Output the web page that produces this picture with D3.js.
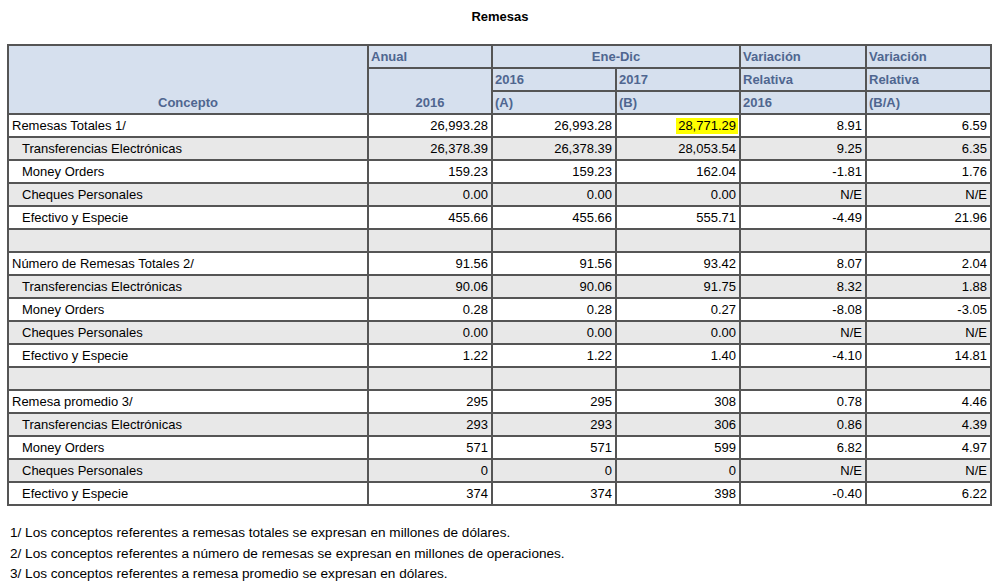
<!DOCTYPE html><html><head><meta charset="utf-8"><script src="https://cdn.jsdelivr.net/npm/d3@7"></script>
<style>body{margin:0;background:#fff}</style></head><body><script>
const concepts=["Remesas Totales 1/","Transferencias Electrónicas","Money Orders","Cheques Personales","Efectivo y Especie","","Número de Remesas Totales 2/","Transferencias Electrónicas","Money Orders","Cheques Personales","Efectivo y Especie","","Remesa promedio 3/","Transferencias Electrónicas","Money Orders","Cheques Personales","Efectivo y Especie"];
const indent=[0,1,1,1,1,0,0,1,1,1,1,0,0,1,1,1,1];
const anual2016=["26,993.28","26,378.39","159.23","0.00","455.66","","91.56","90.06","0.28","0.00","1.22","","295","293","571","0","374"];
const eneDic2016=["26,993.28","26,378.39","159.23","0.00","455.66","","91.56","90.06","0.28","0.00","1.22","","295","293","571","0","374"];
const eneDic2017=["28,771.29","28,053.54","162.04","0.00","555.71","","93.42","91.75","0.27","0.00","1.40","","308","306","599","0","398"];
const varRel2016=["8.91","9.25","-1.81","N/E","-4.49","","8.07","8.32","-8.08","N/E","-4.10","","0.78","0.86","6.82","N/E","-0.40"];
const varRelBA=["6.59","6.35","1.76","N/E","21.96","","2.04","1.88","-3.05","N/E","14.81","","4.46","4.39","4.97","N/E","6.22"];
const footnotes=["1/ Los conceptos referentes a remesas totales se expresan en millones de dólares.","2/ Los conceptos referentes a número de remesas se expresan en millones de operaciones.","3/ Los conceptos referentes a remesa promedio se expresan en dólares."];
const cols=[concepts,anual2016,eneDic2016,eneDic2017,varRel2016,varRelBA];
const colEdges=[8,368,492,616,740,866,991];
const W=1001,H=585;
const svg=d3.select("body").append("svg").attr("width",W).attr("height",H).style("font-family","'Liberation Sans',Arial,sans-serif").style("font-size","13px");
svg.append("text").attr("x",500).attr("y",21).attr("text-anchor","middle").attr("font-weight","bold").text("Remesas");
const y=d3.scaleBand().domain(d3.range(concepts.length)).range([114,505]);
const hy=d3.scaleBand().domain([0,1,2]).range([45,114]);
const hdrFill="#d6e0ee",hdrText="#4f6690",bc="#555";
const hdr=[[0,1,0,3,"Concepto","middle"],[1,2,0,1,"Anual","start"],[1,2,1,3,"2016","middle"],[2,4,0,1,"Ene-Dic","middle"],[2,3,1,2,"2016","start"],[3,4,1,2,"2017","start"],[2,3,2,3,"(A)","start"],[3,4,2,3,"(B)","start"],[4,5,0,1,"Variación","start"],[4,5,1,2,"Relativa","start"],[4,5,2,3,"2016","start"],[5,6,0,1,"Variación","start"],[5,6,1,2,"Relativa","start"],[5,6,2,3,"(B/A)","start"]];
const hb=i=>i<3?hy(i):114;
hdr.forEach(h=>{const x0=colEdges[h[0]],x1=colEdges[h[1]],y0=hb(h[2]),y1=hb(h[3]);
 svg.append("rect").attr("x",x0).attr("y",y0).attr("width",x1-x0).attr("height",y1-y0).attr("fill",hdrFill).attr("stroke",bc).attr("stroke-width",2);
 const tx=h[5]==="middle"?(x0+x1)/2:x0+3;
 svg.append("text").attr("x",tx).attr("y",y1-7).attr("text-anchor",h[5]).attr("fill",hdrText).attr("font-weight","bold").text(h[4]);});
concepts.forEach((c,i)=>{cols.forEach((col,j)=>{const x0=colEdges[j],x1=colEdges[j+1];
 svg.append("rect").attr("x",x0).attr("y",y(i)).attr("width",x1-x0).attr("height",y.bandwidth()).attr("fill",i%2?"#e8e8e8":"#fff").attr("stroke",bc).attr("stroke-width",2);
 const v=col[i]; if(!v)return;
 if(j===0){svg.append("text").attr("x",x0+4+(indent[i]?10:0)).attr("y",y(i)+16).text(v);}
 else{ if(i===0&&j===3){svg.append("rect").attr("x",x1-64).attr("y",y(i)+4).attr("width",62).attr("height",16).attr("fill","#ffff00");}
  svg.append("text").attr("x",x1-4).attr("y",y(i)+16).attr("text-anchor","end").text(v);}
});});
footnotes.forEach((f,i)=>svg.append("text").attr("x",10).attr("y",537+i*20.5).style("font-size","13.6px").text(f));
</script></body></html>
